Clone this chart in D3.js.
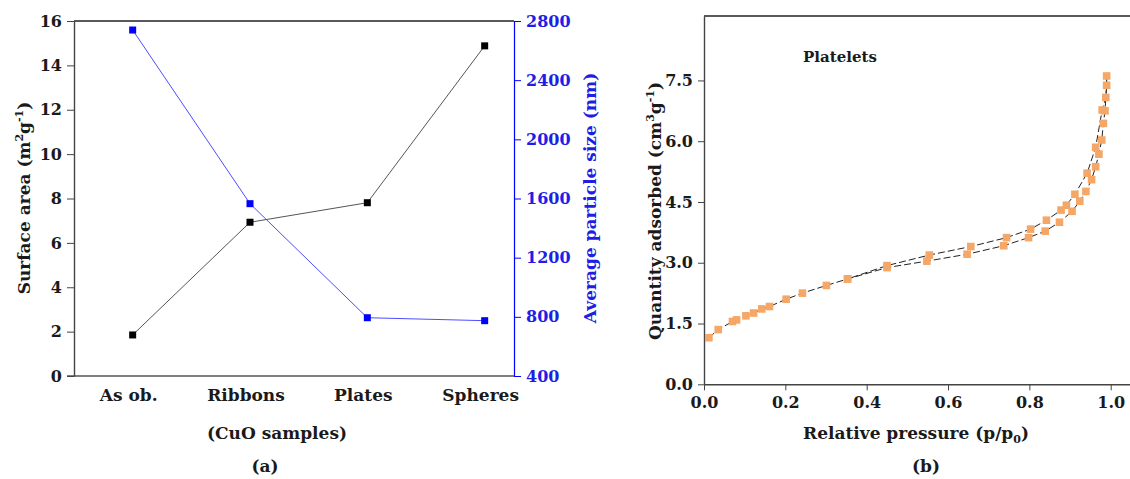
<!DOCTYPE html>
<html>
<head>
<meta charset="utf-8">
<script src="https://cdn.jsdelivr.net/npm/d3@7"></script>
<style>
  body { margin: 0; background: #fff; }
  text { font-family: "DejaVu Serif", serif; font-weight: bold; }
</style>
</head>
<body>
<div id="chart"></div>
<script>
// (a) CuO samples
const samples = ['As ob.', 'Ribbons', 'Plates', 'Spheres'];
const surfaceArea = [1.85, 6.93, 7.81, 14.88];
const particleSize = [2739, 1565, 794, 774];
const areaTicks = [0, 2, 4, 6, 8, 10, 12, 14, 16];
const sizeTicks = [400, 800, 1200, 1600, 2000, 2400, 2800];

// (b) platelets isotherm
const adsP = [0.012, 0.035, 0.070, 0.080, 0.103, 0.122, 0.142, 0.161, 0.202, 0.242, 0.301, 0.353, 0.450, 0.548, 0.647,
              0.737, 0.798, 0.839, 0.874, 0.905, 0.924, 0.939, 0.953, 0.963, 0.971, 0.978, 0.982, 0.986, 0.988, 0.990, 0.990];
const adsQ = [1.15, 1.35, 1.55, 1.59, 1.69, 1.76, 1.86, 1.92, 2.10, 2.25, 2.44, 2.60, 2.88, 3.04, 3.21,
              3.42, 3.62, 3.78, 4.00, 4.27, 4.52, 4.76, 5.05, 5.37, 5.68, 6.03, 6.44, 6.75, 7.08, 7.38, 7.61];
const desP = [0.990, 0.990, 0.988, 0.979, 0.963, 0.942, 0.912, 0.891, 0.878, 0.842, 0.803, 0.744, 0.656, 0.554, 0.450, 0.353];
const desQ = [7.61, 7.38, 7.08, 6.77, 5.85, 5.21, 4.69, 4.42, 4.30, 4.05, 3.83, 3.62, 3.40, 3.19, 2.93, 2.60];
const qTicks = [0, 1.5, 3.0, 4.5, 6.0, 7.5];
const pTicks = [0, 0.2, 0.4, 0.6, 0.8, 1.0];

let width = 1130,
    height = 479;

let svg = d3.select('#chart').append('svg')
  .attr('width', width)
  .attr('height', height)
  .style('display', 'block');

let blue = '#0000ff',
    blueText = '#1e1ee6',
    orange = '#f4a766',
    ink = '#1a1a1a',
    tickFont = '16px',
    labelFont = '17px';

// ---------- panel (a) ----------
let a = { left: 74, right: 514, top: 21, bottom: 376 };

let xA = d3.scaleLinear().domain([-0.5, 3.25]).range([a.left, a.right]);
let yArea = d3.scaleLinear().domain([0, 16]).range([a.bottom, a.top]);
let ySize = d3.scaleLinear().domain([400, 2800]).range([a.bottom, a.top]);

let gA = svg.append('g');

// top frame line
gA.append('line')
  .attr('x1', a.left).attr('x2', a.right)
  .attr('y1', a.top).attr('y2', a.top)
  .style('stroke', '#222').style('stroke-width', 1.3);

// bottom line
gA.append('line')
  .attr('x1', a.left - 7).attr('x2', a.right)
  .attr('y1', a.bottom).attr('y2', a.bottom)
  .style('stroke', '#555').style('stroke-width', 1.6);

let leftAxis = gA.append('g')
  .attr('transform', `translate(${a.left},0)`)
  .call(d3.axisLeft(yArea).tickValues(areaTicks).tickSize(7).tickPadding(5).tickSizeOuter(0));
leftAxis.select('.domain').style('stroke', '#444').style('stroke-width', 1.4);
leftAxis.selectAll('.tick line').style('stroke', '#444');
leftAxis.selectAll('text').style('font-size', tickFont).style('fill', ink);

let rightAxis = gA.append('g')
  .attr('transform', `translate(${a.right},0)`)
  .call(d3.axisRight(ySize).tickValues(sizeTicks).tickFormat(d3.format('d')).tickSize(7).tickPadding(5).tickSizeOuter(0));
rightAxis.select('.domain').style('stroke', blue).style('stroke-width', 1.2);
rightAxis.selectAll('.tick line').style('stroke', blue);
rightAxis.selectAll('text').style('font-size', tickFont).style('fill', blueText);

// category labels
gA.selectAll('.cat')
  .data(samples)
  .enter().append('text')
    .attr('class', 'cat')
    .attr('x', (d, i) => xA(i) - 4)
    .attr('y', 401)
    .attr('text-anchor', 'middle')
    .style('font-size', labelFont)
    .style('fill', ink)
    .text(d => d);

let lineArea = d3.line().x((d, i) => xA(i)).y(d => yArea(d));
let lineSize = d3.line().x((d, i) => xA(i)).y(d => ySize(d));

gA.append('path')
  .attr('d', lineArea(surfaceArea))
  .style('fill', 'none').style('stroke', '#555').style('stroke-width', 1);

gA.append('path')
  .attr('d', lineSize(particleSize))
  .style('fill', 'none').style('stroke', '#4d4dff').style('stroke-width', 1);

gA.selectAll('.ptArea')
  .data(surfaceArea)
  .enter().append('rect')
    .attr('x', (d, i) => xA(i) - 3.5)
    .attr('y', d => yArea(d) - 3.5)
    .attr('width', 7).attr('height', 7)
    .style('fill', '#000');

gA.selectAll('.ptSize')
  .data(particleSize)
  .enter().append('rect')
    .attr('x', (d, i) => xA(i) - 3.5)
    .attr('y', d => ySize(d) - 3.5)
    .attr('width', 7).attr('height', 7)
    .style('fill', blue);

// axis titles (a)
let lt = gA.append('text')
  .attr('transform', 'translate(30,198) rotate(-90)')
  .attr('text-anchor', 'middle')
  .style('font-size', labelFont)
  .style('fill', ink);
lt.append('tspan').text('Surface area (m');
lt.append('tspan').attr('dy', -7).style('font-size', '11px').text('2');
lt.append('tspan').attr('dy', 7).text('g');
lt.append('tspan').attr('dy', -7).style('font-size', '11px').text('-1');
lt.append('tspan').attr('dy', 7).text(')');

gA.append('text')
  .attr('transform', 'translate(596,198) rotate(-90)')
  .attr('text-anchor', 'middle')
  .style('font-size', labelFont)
  .style('fill', blueText)
  .text('Average particle size (nm)');

gA.append('text')
  .attr('x', 277).attr('y', 439)
  .attr('text-anchor', 'middle')
  .style('font-size', labelFont).style('fill', ink)
  .text('(CuO samples)');

gA.append('text')
  .attr('x', 265).attr('y', 472)
  .attr('text-anchor', 'middle')
  .style('font-size', labelFont).style('fill', ink)
  .text('(a)');

// ---------- panel (b) ----------
let b = { left: 704, top: 16, bottom: 384.3 };

let xB = d3.scaleLinear().domain([0, 1.06]).range([b.left, b.left + 1.06 * 406.7]);
let yB = d3.scaleLinear().domain([0, 9.09]).range([b.bottom, b.top]);

let gB = svg.append('g');

gB.append('line')
  .attr('x1', b.left).attr('x2', width)
  .attr('y1', b.top).attr('y2', b.top)
  .style('stroke', '#222').style('stroke-width', 1.3);

let bAxisX = gB.append('g')
  .attr('transform', `translate(0,${b.bottom})`)
  .call(d3.axisBottom(xB).tickValues(pTicks).tickFormat(d3.format('.1f')).tickSize(6).tickPadding(6).tickSizeOuter(0));
bAxisX.select('.domain').style('stroke', '#444').style('stroke-width', 1.4);
bAxisX.selectAll('.tick line').style('stroke', '#444');
bAxisX.selectAll('text').style('font-size', tickFont).style('fill', ink);

let bAxisY = gB.append('g')
  .attr('transform', `translate(${b.left},0)`)
  .call(d3.axisLeft(yB).tickValues(qTicks).tickFormat(d3.format('.1f')).tickSize(6).tickPadding(5).tickSizeOuter(0));
bAxisY.select('.domain').style('stroke', '#444').style('stroke-width', 1.4);
bAxisY.selectAll('.tick line').style('stroke', '#444');
bAxisY.selectAll('text').style('font-size', tickFont).style('fill', ink);

let ads = adsP.map((p, i) => [p, adsQ[i]]);
let des = desP.map((p, i) => [p, desQ[i]]);

let isoLine = d3.line().x(d => xB(d[0])).y(d => yB(d[1]));

[ads, des].forEach(function(branch) {
  gB.append('path')
    .attr('d', isoLine(branch))
    .style('fill', 'none')
    .style('stroke', '#222')
    .style('stroke-width', 1)
    .style('stroke-dasharray', '7,3');
});

gB.selectAll('.iso')
  .data(ads.concat(des.slice(3)))
  .enter().append('rect')
    .attr('x', d => xB(d[0]) - 3.8)
    .attr('y', d => yB(d[1]) - 3.8)
    .attr('width', 7.6).attr('height', 7.6)
    .style('fill', orange);

gB.append('text')
  .attr('x', 840).attr('y', 62)
  .attr('text-anchor', 'middle')
  .style('font-size', '15px').style('fill', ink)
  .text('Platelets');

let qt = gB.append('text')
  .attr('transform', 'translate(661,211) rotate(-90)')
  .attr('text-anchor', 'middle')
  .style('font-size', labelFont)
  .style('fill', ink);
qt.append('tspan').text('Quantity adsorbed (cm');
qt.append('tspan').attr('dy', -7).style('font-size', '11px').text('3');
qt.append('tspan').attr('dy', 7).text('g');
qt.append('tspan').attr('dy', -7).style('font-size', '11px').text('-1');
qt.append('tspan').attr('dy', 7).text(')');

let xt = gB.append('text')
  .attr('x', 916).attr('y', 439)
  .attr('text-anchor', 'middle')
  .style('font-size', labelFont)
  .style('fill', ink);
xt.append('tspan').text('Relative pressure (p/p');
xt.append('tspan').attr('dy', 4).style('font-size', '11px').text('0');
xt.append('tspan').attr('dy', -4).text(')');

gB.append('text')
  .attr('x', 926).attr('y', 472)
  .attr('text-anchor', 'middle')
  .style('font-size', labelFont).style('fill', ink)
  .text('(b)');
</script>
</body>
</html>
